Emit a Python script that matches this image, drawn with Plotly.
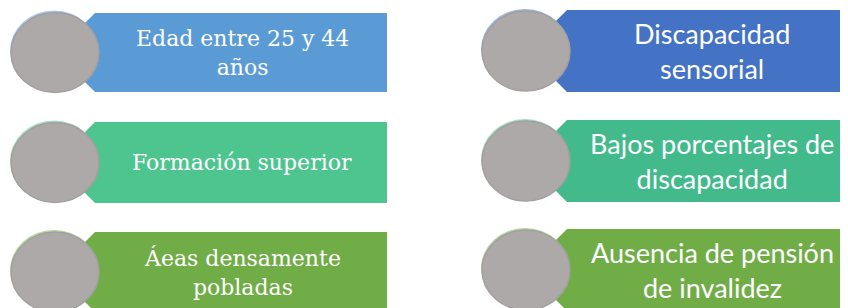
import plotly.graph_objects as go

# ---- content ----
left_labels = ["Edad entre 25 y 44<br>años", "Formación superior", "Áeas densamente<br>pobladas"]
right_labels = ["Discapacidad<br>sensorial", "Bajos porcentajes de<br>discapacidad", "Ausencia de pensión<br>de invalidez"]
left_colors = ["#5B9BD5", "#4EC58F", "#70AD47"]
right_colors = ["#4472C4", "#42BA8C", "#70AD47"]
left_glow = ["#A9C6EC", "#A6E0C3", "#B7D6A3"]
right_glow = ["#A3B6E3", "#A2DCC4", "#B7D6A3"]

# page body has an 8px margin: the figure is drawn 8px in from the window edge
OFF = 8
W, H = 848, 308
fig = go.Figure()

shapes = []
annotations = []

def add_item(cx, cy, x_left_top, x_right, top, bottom, color, glow, text, text_x, font):
    half = (bottom - top) / 2
    mid = (top + bottom) / 2
    tip = x_left_top - half
    path = f"M {tip},{mid} L {x_left_top},{top} L {x_right},{top} L {x_right},{bottom} L {x_left_top},{bottom} Z"
    shapes.append(dict(type="path", path=path, fillcolor=color, line=dict(width=0),
                       xref="x", yref="y", layer="below"))
    rx, ry = 44, 40
    shapes.append(dict(type="circle", x0=cx - rx - 1, x1=cx + rx - 1, y0=cy - ry - 2, y1=cy + ry - 2,
                       fillcolor=glow, line=dict(width=0), xref="x", yref="y", layer="below"))
    shapes.append(dict(type="circle", x0=cx - rx, x1=cx + rx, y0=cy - ry, y1=cy + ry,
                       fillcolor="#ACA9A8", line=dict(color="#A2A09F", width=1.5),
                       xref="x", yref="y", layer="below"))
    annotations.append(dict(x=text_x, y=mid, xref="x", yref="y", text=text, showarrow=False,
                            font=font, align="center", xanchor="center", yanchor="middle"))

left_rows = [(13, 92), (122, 203), (232, 312)]
right_rows = [(10, 92), (120, 202), (229, 311)]

serif = dict(family="DejaVu Serif", size=22, color="white")
sans = dict(family="Lato", size=27, color="white")

for i in range(3):
    t, b = left_rows[i]
    add_item(55, (t + b) / 2, 95, 387, t, b, left_colors[i], left_glow[i], left_labels[i], 242, serif)
for i in range(3):
    t, b = right_rows[i]
    add_item(526, (t + b) / 2, 567, 860, t, b, right_colors[i], right_glow[i], right_labels[i], 712, sans)

fig.update_layout(
    width=W - OFF, height=H - OFF, margin=dict(l=0, r=0, t=0, b=0),
    paper_bgcolor="white", plot_bgcolor="white",
    xaxis=dict(range=[OFF, W], visible=False, fixedrange=True),
    yaxis=dict(range=[H, OFF], visible=False, fixedrange=True),
    shapes=shapes, annotations=annotations, showlegend=False,
)

fig.write_html("out.html")
